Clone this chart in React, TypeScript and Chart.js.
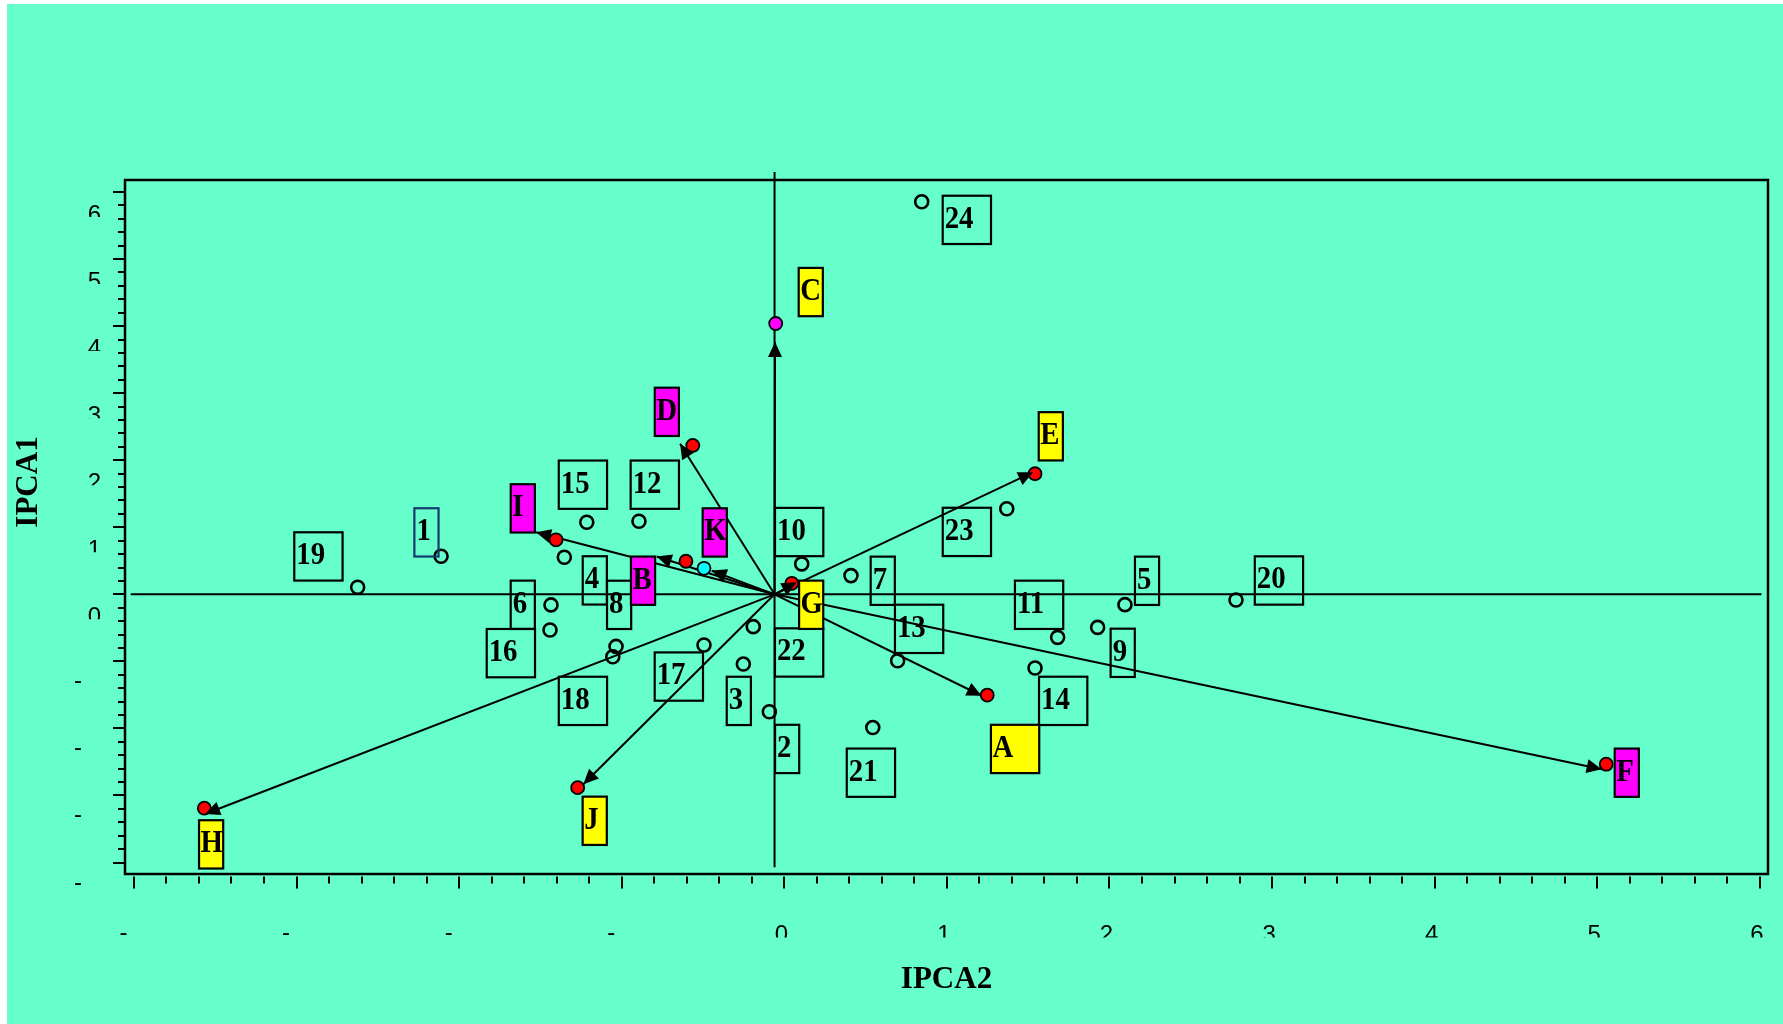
import React, { useEffect, useRef } from 'react';
import { Chart, registerables } from 'chart.js';

Chart.register(...registerables);

// ---- AMMI biplot data: IPCA2 (x) against IPCA1 (y) ----

// Genotypes 1–24 (open markers)
const genotypeLabels = ['1', '2', '3', '4', '5', '6', '7', '8', '9', '10', '11', '12', '13', '14', '15', '16', '17', '18', '19', '20', '21', '22', '23', '24'];
const genotypeIPCA2 = [-2.111, -0.092, -0.252, -1.353, 2.095, -1.435, 0.41, -1.035, 1.927, 0.107, 1.681, -0.894, 0.697, 1.542, -1.215, -1.441, -0.494, -1.055, -2.624, 2.778, 0.544, -0.191, 1.368, 0.845];
const genotypeIPCA1 = [0.568, -1.752, -1.04, 0.553, -0.154, -0.158, 0.279, -0.777, -0.493, 0.454, -0.642, 1.09, -0.99, -1.099, 1.075, -0.532, -0.756, -0.931, 0.105, -0.084, -1.987, -0.482, 1.276, 5.855];

// Environments A–K (filled markers) and the tips of their vectors
const envLabels = ['A', 'B', 'C', 'D', 'E', 'F', 'G', 'H', 'I', 'J', 'K'];
const envIPCA2 = [1.248, -0.605, -0.053, -0.563, 1.542, 5.055, 0.046, -3.567, -1.404, -1.271, -0.494];
const envIPCA1 = [-1.503, 0.493, 4.039, 2.221, 1.798, -2.533, 0.164, -3.19, 0.813, -2.883, 0.388];
const vectorIPCA2 = [1.214, -0.785, -0.057, -0.641, 1.53, 5.027, 0.076, -3.563, -1.527, -1.236, -0.447];
const vectorIPCA1 = [-1.513, 0.563, 3.764, 2.246, 1.822, -2.608, 0.179, -3.276, 0.926, -2.832, 0.354];

// Origin of the vectors and extent of the two reference lines
const originIPCA2 = -0.06;
const originIPCA1 = 0;
const refLineIPCA2 = [-4.02, 6.01];
const refLineIPCA1 = [-4.07, 6.3];

// Axis ranges and tick labels
const xRange = [-4.055, 6.05];
const yRange = [-4.171, 6.179];
const xTickValues = [-4, -3, -2, -1, 0, 1, 2, 3, 4, 5, 6];
const xTickLabels = ['-', '-', '-', '-', '0', '1', '2', '3', '4', '5', '6'];
const yTickValues = [-4, -3, -2, -1, 0, 1, 2, 3, 4, 5, 6];
const yTickLabels = ['-', '-', '-', '-', '0', '1', '2', '3', '4', '5', '6'];
const minorStep = 0.2;

// ---- styling / layout ----
const BG = '#66FFCC';
const envBoxFill = ['#FFFF00', '#FF00FF', '#FFFF00', '#FF00FF', '#FFFF00', '#FF00FF', '#FFFF00', '#FFFF00', '#FF00FF', '#FFFF00', '#FF00FF'];
const envMarkerFill = ['#FF0000', '#FF0000', '#FF00FF', '#FF0000', '#FF0000', '#FF0000', '#FF0000', '#FF0000', '#FF0000', '#FF0000', '#00FFFF'];
const envBoxCells = [2, 1, 1, 1, 1, 1, 1, 1, 1, 1, 1];
// label box top-left corner, in px, relative to its marker
const genotypeBoxOffset: [number, number][] = [
  [-26.7, -48], [5.7, 13], [-16.6, 12.7], [18.4, -1], [10, -48], [-40.3, -24.3],
  [19.7, -19], [-9, -65.7], [13, 1.3], [-26.7, -56], [-42.7, -56.7], [-8.3, -60.7],
  [-2.7, -56], [4, 8.7], [-28, -61.7], [-63.3, -1], [-49.3, 7.4], [-54, 20],
  [-63.4, -55], [18.8, -43.6], [-26, 21], [21.7, 1.7], [-64, -1], [21, -6],
];
const envBoxOffset: [number, number][] = [
  [3.7, 29.7], [-55, -4.7], [23, -55.6], [-38, -57.7], [3.7, -61.6], [8.5, -15.6],
  [7.3, -2.7], [-5.3, 12], [-45.3, -55.6], [5, 9], [-1.3, -60],
];
const CELL = 24.15;
const BOX_H = 48.3;
const LABEL_FONT = "bold 32px 'Liberation Serif', 'Times New Roman', serif";
const LABEL_SQUEEZE = 0.9;
const TITLE_FONT = "bold 31px 'Liberation Serif', 'Times New Roman', serif";
const TICK_FONT = "24px 'Liberation Sans', Arial, sans-serif";

const W = 1783;
const H = 1024;

function drawBoxText(ctx: CanvasRenderingContext2D, text: string, x: number, y: number) {
  ctx.save();
  ctx.translate(x, y);
  ctx.scale(LABEL_SQUEEZE, 1);
  ctx.fillText(text, 0, 0);
  ctx.restore();
}

const decor = {
  id: 'biplotDecor',
  beforeDraw(chart: any) {
    const ctx: CanvasRenderingContext2D = chart.ctx;
    const a = chart.chartArea;
    const xs = chart.scales.x;
    const ys = chart.scales.y;
    ctx.save();
    ctx.fillStyle = '#FFFFFF';
    ctx.fillRect(0, 0, chart.width, chart.height);
    ctx.fillStyle = BG;
    ctx.fillRect(7, 4, chart.width - 7, chart.height - 4);

    // frame
    ctx.strokeStyle = '#000';
    ctx.lineWidth = 2.5;
    ctx.strokeRect(a.left, a.top, a.right - a.left, a.bottom - a.top);

    // tick marks
    ctx.lineWidth = 2;
    const nX = Math.round((xTickValues[xTickValues.length - 1] - xTickValues[0]) / minorStep);
    for (let k = 0; k <= nX; k++) {
      const v = xTickValues[0] + k * minorStep;
      const px = Math.round(xs.getPixelForValue(v));
      const len = k % 5 === 0 ? 12 : 7;
      ctx.beginPath();
      ctx.moveTo(px, a.bottom + 2.5);
      ctx.lineTo(px, a.bottom + 2.5 + len);
      ctx.stroke();
    }
    const nY = Math.round((yTickValues[yTickValues.length - 1] - yTickValues[0]) / minorStep);
    for (let k = 0; k <= nY; k++) {
      const v = yTickValues[0] + k * minorStep;
      const py = Math.round(ys.getPixelForValue(v));
      const len = k % 5 === 0 ? 12 : 7;
      ctx.beginPath();
      ctx.moveTo(a.left, py);
      ctx.lineTo(a.left - len, py);
      ctx.stroke();
    }

    // tick labels (upper part of the glyphs only)
    ctx.font = TICK_FONT;
    ctx.fillStyle = '#000';
    ctx.textBaseline = 'alphabetic';
    xTickValues.forEach((v, i) => {
      const px = xs.getPixelForValue(v);
      const label = xTickLabels[i];
      ctx.save();
      ctx.textAlign = 'center';
      if (label === '-') {
        ctx.fillText(label, px - 10.5, 940);
      } else {
        ctx.beginPath();
        ctx.rect(px - 25, 915, 50, 22.5);
        ctx.clip();
        ctx.fillText(label, px - 3, 942);
      }
      ctx.restore();
    });
    yTickValues.forEach((v, i) => {
      const py = ys.getPixelForValue(v);
      const label = yTickLabels[i];
      ctx.save();
      if (label === '-') {
        ctx.textAlign = 'center';
        ctx.fillText(label, 78, py + 27);
      } else {
        ctx.beginPath();
        ctx.rect(60, py + 5, 60, 20);
        ctx.clip();
        ctx.textAlign = 'right';
        ctx.fillText(label, 101, py + 30);
      }
      ctx.restore();
    });

    // axis titles
    ctx.font = TITLE_FONT;
    ctx.textAlign = 'center';
    ctx.fillText('IPCA2', (a.left + a.right) / 2, 988);
    ctx.save();
    ctx.translate(37, 482);
    ctx.rotate(-Math.PI / 2);
    ctx.fillText('IPCA1', 0, 0);
    ctx.restore();
    ctx.restore();
  },
  afterDatasetsDraw(chart: any) {
    const ctx: CanvasRenderingContext2D = chart.ctx;
    const xs = chart.scales.x;
    const ys = chart.scales.y;
    ctx.save();

    // arrowheads at the vector tips
    const ox = xs.getPixelForValue(originIPCA2);
    const oy = ys.getPixelForValue(originIPCA1);
    ctx.fillStyle = '#000';
    envLabels.forEach((_, i) => {
      const tx = xs.getPixelForValue(vectorIPCA2[i]);
      const ty = ys.getPixelForValue(vectorIPCA1[i]);
      const ang = Math.atan2(ty - oy, tx - ox);
      const L = 15;
      const hw = 7;
      const bx = tx - L * Math.cos(ang);
      const by = ty - L * Math.sin(ang);
      ctx.beginPath();
      ctx.moveTo(tx, ty);
      ctx.lineTo(bx - hw * Math.sin(ang), by + hw * Math.cos(ang));
      ctx.lineTo(bx + hw * Math.sin(ang), by - hw * Math.cos(ang));
      ctx.closePath();
      ctx.fill();
    });

    ctx.font = LABEL_FONT;
    ctx.textAlign = 'left';
    ctx.textBaseline = 'alphabetic';
    ctx.lineWidth = 2.2;

    // genotype label boxes
    genotypeLabels.forEach((lab, i) => {
      const px = xs.getPixelForValue(genotypeIPCA2[i]);
      const py = ys.getPixelForValue(genotypeIPCA1[i]);
      const [dx, dy] = genotypeBoxOffset[i];
      const bx = px + dx;
      const by = py + dy;
      const bw = lab.length * CELL;
      ctx.strokeStyle = lab === '1' ? '#143C6E' : '#000';
      ctx.strokeRect(bx, by, bw, BOX_H);
      ctx.fillStyle = '#000';
      drawBoxText(ctx, lab, bx + 2, by + 32);
    });

    // environment label boxes
    envLabels.forEach((lab, i) => {
      const px = xs.getPixelForValue(envIPCA2[i]);
      const py = ys.getPixelForValue(envIPCA1[i]);
      const [dx, dy] = envBoxOffset[i];
      const bx = px + dx;
      const by = py + dy;
      const bw = envBoxCells[i] * CELL;
      ctx.fillStyle = envBoxFill[i];
      ctx.fillRect(bx, by, bw, BOX_H);
      ctx.strokeStyle = '#000';
      ctx.strokeRect(bx, by, bw, BOX_H);
      ctx.fillStyle = '#000';
      drawBoxText(ctx, lab, bx + 1.5, by + 32);
    });
    ctx.restore();
  },
};

export default function App() {
  const canvasRef = useRef<HTMLCanvasElement>(null);

  useEffect(() => {
    const canvas = canvasRef.current;
    if (!canvas) return;
    document.body.style.overflow = 'hidden';

    const genotypePoints = genotypeIPCA2.map((x, i) => ({ x, y: genotypeIPCA1[i] }));
    const envPoints = envIPCA2.map((x, i) => ({ x, y: envIPCA1[i] }));

    const vectorSets = envLabels.map((lab, i) => ({
      label: `vector ${lab}`,
      data: [
        { x: originIPCA2, y: originIPCA1 },
        { x: vectorIPCA2[i], y: vectorIPCA1[i] },
      ],
      showLine: true,
      borderColor: '#000',
      borderWidth: 2,
      pointRadius: 0,
      fill: false,
      order: 3,
    }));

    const chart = new Chart(canvas, {
      type: 'scatter',
      data: {
        datasets: [
          {
            label: 'Genotypes',
            data: genotypePoints,
            pointRadius: 6.5,
            pointBorderWidth: 2.6,
            borderColor: '#000',
            backgroundColor: 'rgba(0,0,0,0)',
            pointStyle: 'circle',
            order: 1,
          },
          {
            label: 'Environments',
            data: envPoints,
            pointRadius: 6.5,
            pointBorderWidth: 1.8,
            borderColor: '#000',
            backgroundColor: envMarkerFill,
            pointStyle: 'circle',
            order: 2,
          },
          ...vectorSets,
          {
            label: 'IPCA1 = 0',
            data: [
              { x: refLineIPCA2[0], y: originIPCA1 },
              { x: refLineIPCA2[1], y: originIPCA1 },
            ],
            showLine: true,
            borderColor: '#000',
            borderWidth: 2,
            pointRadius: 0,
            clip: false,
            order: 4,
          },
          {
            label: 'IPCA2 = 0',
            data: [
              { x: originIPCA2, y: refLineIPCA1[0] },
              { x: originIPCA2, y: refLineIPCA1[1] },
            ],
            showLine: true,
            borderColor: '#000',
            borderWidth: 2,
            pointRadius: 0,
            clip: false,
            order: 4,
          },
        ] as any,
      },
      options: {
        animation: false,
        responsive: false,
        maintainAspectRatio: false,
        events: [],
        layout: { padding: { left: 125, right: 15, top: 180, bottom: 150 } },
        scales: {
          x: { type: 'linear', min: xRange[0], max: xRange[1], display: false },
          y: { type: 'linear', min: yRange[0], max: yRange[1], display: false },
        },
        plugins: {
          legend: { display: false },
          tooltip: { enabled: false },
          title: { display: false },
        },
      },
      plugins: [decor],
    });

    return () => chart.destroy();
  }, []);

  return (
    <div style={{ position: 'absolute', left: 0, top: 0, width: W, height: H, overflow: 'hidden' }}>
      <canvas ref={canvasRef} width={W} height={H} style={{ display: 'block', width: W, height: H }} />
    </div>
  );
}
